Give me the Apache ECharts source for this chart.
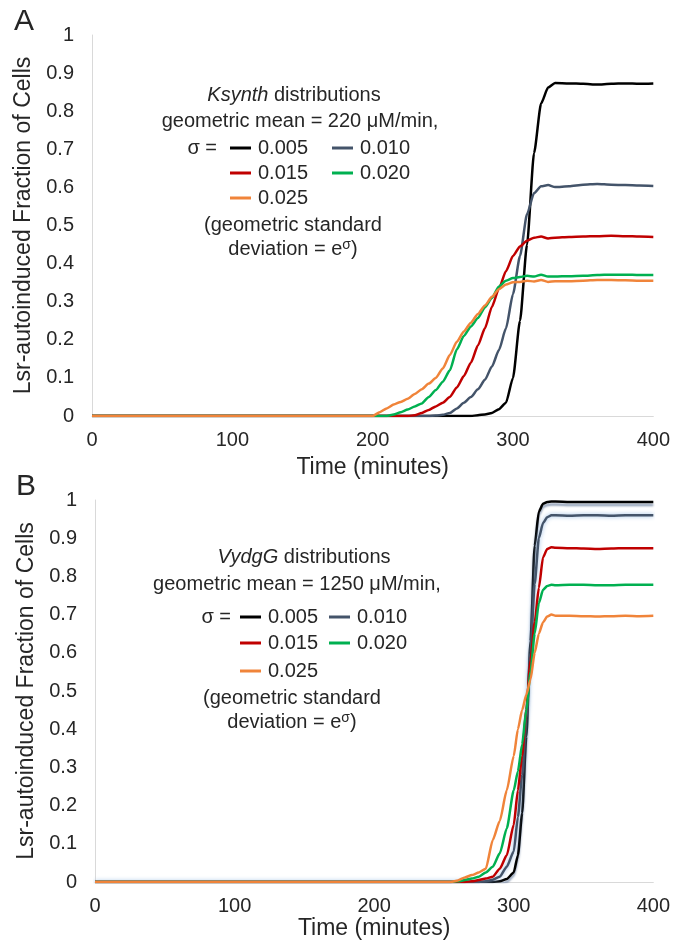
<!DOCTYPE html>
<html>
<head>
<meta charset="utf-8">
<script src="https://cdn.jsdelivr.net/npm/echarts@6/dist/echarts.min.js"></script>
<style>
html,body{margin:0;padding:0;background:#fff;}
#c{width:673px;height:941px;}
</style>
</head>
<body>
<div id="c"></div>
<script>
// ---- data ----
const sigmaLabels = ['0.005', '0.010', '0.015', '0.020', '0.025'];
const xTicks = [0, 100, 200, 300, 400];

const timesA = [0,195,200,205,210,215,220,225,230,235,240,245,250,255,260,265,270,275,280,285,290,295,300,305,310,315,320,325,330,340,350,360,370,380,390,400];
const A_s005 = [0,0,0,0,0,0,0,0,0,0,0,0,0,0,0,0,0,0.002,0.004,0.008,0.018,0.035,0.1,0.25,0.45,0.69,0.82,0.862,0.874,0.873,0.872,0.870,0.872,0.873,0.872,0.873];
const A_s010 = [0,0,0,0,0,0,0,0,0,0,0,0.001,0.003,0.008,0.02,0.035,0.05,0.07,0.095,0.13,0.173,0.23,0.32,0.42,0.53,0.585,0.603,0.606,0.601,0.603,0.607,0.609,0.607,0.606,0.605,0.604];
const A_s015 = [0,0,0,0,0,0,0,0,0.002,0.008,0.016,0.025,0.035,0.05,0.075,0.105,0.14,0.185,0.23,0.287,0.335,0.38,0.42,0.445,0.46,0.468,0.471,0.466,0.468,0.47,0.471,0.472,0.473,0.472,0.471,0.47];
const A_s020 = [0,0,0,0,0,0.004,0.01,0.017,0.025,0.033,0.05,0.068,0.09,0.12,0.175,0.21,0.235,0.257,0.285,0.31,0.34,0.355,0.362,0.365,0.368,0.366,0.371,0.366,0.366,0.367,0.368,0.37,0.371,0.371,0.37,0.37];
const A_s025 = [0,0,0,0.01,0.02,0.03,0.037,0.045,0.058,0.07,0.085,0.1,0.125,0.16,0.195,0.222,0.245,0.268,0.29,0.313,0.333,0.345,0.351,0.352,0.355,0.353,0.357,0.352,0.354,0.354,0.355,0.357,0.357,0.356,0.355,0.355];

const timesB = [0,250,255,260,265,270,275,280,285,290,295,300,303,306,309,312,315,318,321,324,327,330,340,350,360,370,380,390,400];
const B_s005 = [0,0,0,0,0,0,0,0,0,0.002,0.008,0.025,0.07,0.18,0.38,0.63,0.88,0.97,0.99,0.995,0.996,0.996,0.995,0.995,0.995,0.995,0.995,0.995,0.995];
const B_s010 = [0,0,0,0,0,0,0,0.002,0.006,0.014,0.04,0.08,0.17,0.28,0.43,0.6,0.78,0.9,0.94,0.955,0.96,0.96,0.959,0.96,0.96,0.959,0.96,0.96,0.96];
const B_s015 = [0,0,0,0,0,0.002,0.005,0.009,0.014,0.035,0.07,0.15,0.24,0.33,0.45,0.58,0.68,0.77,0.85,0.872,0.876,0.875,0.874,0.873,0.872,0.873,0.874,0.874,0.874];
const B_s020 = [0,0,0,0.002,0.005,0.009,0.014,0.025,0.04,0.075,0.14,0.24,0.29,0.36,0.45,0.55,0.65,0.73,0.765,0.775,0.778,0.777,0.778,0.778,0.777,0.777,0.778,0.778,0.778];
const B_s025 = [0,0,0,0.004,0.012,0.018,0.025,0.035,0.11,0.16,0.24,0.33,0.4,0.45,0.49,0.53,0.6,0.65,0.68,0.695,0.70,0.697,0.697,0.696,0.695,0.696,0.697,0.696,0.697];

// ---- styling ----
const COLORS = ['#000000', '#44546a', '#c00000', '#00b050', '#f0843a'];
const FONT = '"Liberation Sans", Arial, sans-serif';
const TXT = '#262626';

function pairs(t, v) { return t.map((x, i) => [x, v[i]]); }

const seriesA = [A_s005, A_s010, A_s015, A_s020, A_s025];
const seriesB = [B_s005, B_s010, B_s015, B_s020, B_s025];

function makeSeries(arrs, times, idx) {
  return arrs.map((v, i) => {
    const ls = { color: COLORS[i], width: 2.5 };
    if (idx === 1 && i === 0) {
      Object.assign(ls, { shadowColor: 'rgba(110,130,160,0.75)', shadowBlur: 2, shadowOffsetY: 3 });
    }
    if (idx === 1 && i === 1) {
      Object.assign(ls, { shadowColor: 'rgba(140,180,225,0.9)', shadowBlur: 4 });
    }
    return {
      type: 'line', name: sigmaLabels[i], xAxisIndex: idx, yAxisIndex: idx,
      data: pairs(times, v), showSymbol: false, symbol: 'none',
      smooth: 0.2, smoothMonotone: 'x',
      lineStyle: ls, animation: false, z: 2 + i
    };
  });
}

function xAx(gi, gap) {
  return {
    type: 'value', gridIndex: gi, min: 0, max: 400, interval: 100,
    axisLine: { show: true, lineStyle: { color: '#d9d9d9', width: 1 } },
    axisTick: { show: false }, splitLine: { show: false },
    axisLabel: { color: TXT, fontSize: 20, fontFamily: FONT, margin: 14 },
    name: 'Time (minutes)', nameLocation: 'middle', nameGap: gap,
    nameTextStyle: { color: TXT, fontSize: 23, fontFamily: FONT }
  };
}
function yAx(gi) {
  return {
    type: 'value', gridIndex: gi, min: 0, max: 1, interval: 0.1,
    axisLine: { show: true, lineStyle: { color: '#d9d9d9', width: 1 } },
    axisTick: { show: false }, splitLine: { show: false },
    axisLabel: { color: TXT, fontSize: 20, fontFamily: FONT, margin: 18 },
    name: 'Lsr-autoinduced Fraction of Cells', nameLocation: 'middle', nameGap: 50,
    nameTextStyle: { color: TXT, fontSize: 23, fontFamily: FONT }
  };
}

function txt(text, x, y, align, extra) {
  return {
    type: 'text', x: x, y: y, silent: true,
    style: Object.assign({
      text: text, fill: TXT, fontSize: 20, fontFamily: FONT,
      textAlign: align || 'left', textVerticalAlign: 'middle'
    }, extra || {})
  };
}
function dash(x1, x2, y, color) {
  return { type: 'line', silent: true, shape: { x1: x1, y1: y, x2: x2, y2: y }, style: { stroke: color, lineWidth: 3 } };
}
function legendBlock(p) {
  const els = [];
  els.push(txt('{i|' + p.gene + '} distributions', p.c1, p.y[0], 'center', {
    rich: { i: { fontStyle: 'italic', fontSize: 20, fontFamily: FONT, fill: TXT } }
  }));
  els.push(txt('geometric mean = ' + p.mean + ' \u03bcM/min,', p.c2, p.y[1], 'center'));
  els.push(txt('\u03c3 =', p.sx, p.y[2], 'right'));
  const rows = [[0, 1], [2, 3], [4]];
  rows.forEach((r, ri) => {
    r.forEach((si, k) => {
      const dx = k === 0 ? p.d1 : p.d2;
      els.push(dash(dx, dx + 21, p.y[2 + ri], COLORS[si]));
      els.push(txt(sigmaLabels[si], dx + 28, p.y[2 + ri], 'left'));
    });
  });
  els.push(txt('(geometric standard', p.c3, p.y[5], 'center'));
  els.push(txt('deviation = e{s|\u03c3})', p.c3, p.y[6], 'center', {
    rich: { s: { fontSize: 14, fontFamily: FONT, fill: TXT, verticalAlign: 'top', padding: [0, 0, 8, 0] } }
  }));
  return els;
}

const graphics = [
  txt('A', 14, 22, 'left', { fontSize: 30 }),
  txt('B', 16, 487, 'left', { fontSize: 30 })
].concat(
  legendBlock({ gene: 'Ksynth', mean: '220', c1: 294, c2: 300, c3: 293, sx: 217, d1: 230, d2: 332,
    y: [95, 121, 148, 173, 198, 225, 249] }),
  legendBlock({ gene: 'VydgG', mean: '1250', c1: 304, c2: 297, c3: 292, sx: 231, d1: 240, d2: 329,
    y: [557, 584, 617, 643, 671, 698, 722] })
);

const chart = echarts.init(document.getElementById('c'), null, { renderer: 'canvas' });
chart.setOption({
  backgroundColor: '#ffffff',
  animation: false,
  grid: [
    { left: 92, top: 35, width: 563, height: 381 },
    { left: 95, top: 500, width: 563, height: 382 }
  ],
  xAxis: [xAx(0, 40), xAx(1, 35)],
  yAxis: [yAx(0), yAx(1)],
  series: makeSeries(seriesA, timesA, 0).concat(makeSeries(seriesB, timesB, 1)),
  graphic: graphics
});
</script>
</body>
</html>
